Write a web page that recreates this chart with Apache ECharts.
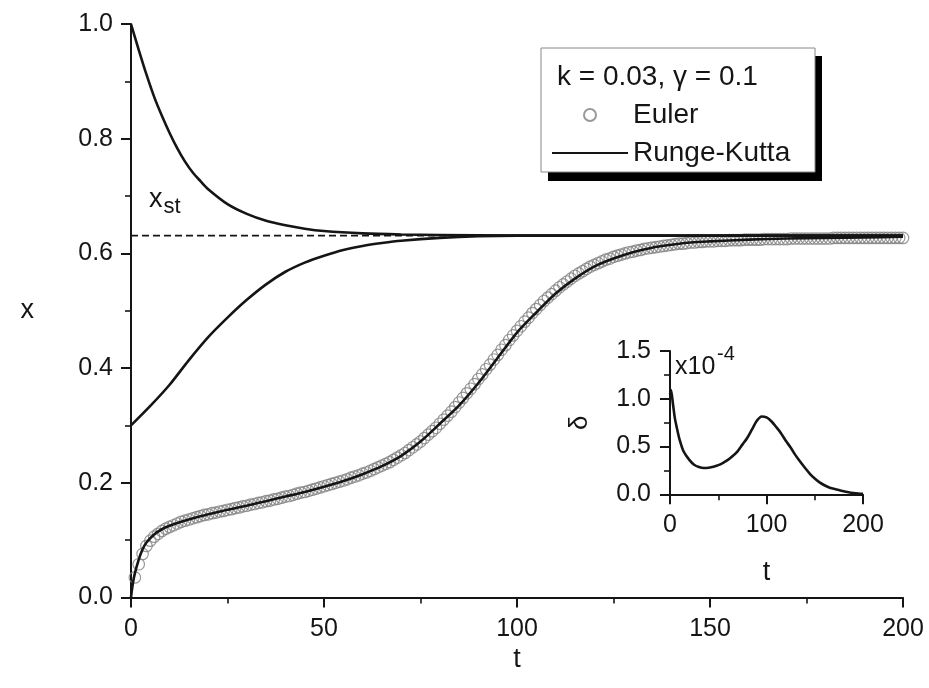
<!DOCTYPE html>
<html>
<head>
<meta charset="utf-8">
<script src="https://cdn.jsdelivr.net/npm/echarts@6/dist/echarts.min.js"></script>
<style>
  html, body { margin: 0; padding: 0; background: #fff; }
  #main { width: 929px; height: 688px; }
</style>
</head>
<body>
<div id="main"></div>
<script>
// Runge-Kutta, start x = 0 (S-shaped curve)
var rkLowT = [0, 0.5, 1, 2, 3, 4, 6, 8, 10, 13, 17, 20, 25, 30, 35, 40, 45, 50, 55, 60, 65, 70, 75, 80, 85, 90, 95, 100,
  105, 110, 115, 120, 125, 130, 135, 140, 145, 150, 160, 170, 180, 190, 200];
var rkLowX = [0, 0.025, 0.042, 0.066, 0.084, 0.096, 0.110, 0.119, 0.125, 0.132, 0.140, 0.145, 0.153, 0.160, 0.168, 0.176,
  0.184, 0.193, 0.203, 0.215, 0.229, 0.247, 0.272, 0.303, 0.335, 0.374, 0.418, 0.462,
  0.497, 0.530, 0.556, 0.577, 0.591, 0.602, 0.610, 0.615, 0.619, 0.621, 0.624, 0.626, 0.627, 0.628, 0.629];

// Runge-Kutta, start x = 1.0
var rkHighT = [0, 2, 4, 6, 8, 10, 12, 14, 16, 18, 20, 25, 30, 35, 40, 45, 50, 60, 70, 80, 100, 150, 200];
var rkHighX = [1.0, 0.955, 0.912, 0.873, 0.840, 0.810, 0.783, 0.760, 0.741, 0.726, 0.712, 0.686, 0.669, 0.657, 0.649,
  0.643, 0.639, 0.635, 0.633, 0.632, 0.631, 0.631, 0.631];

// Runge-Kutta, start x = 0.3
var rkMidT = [0, 5, 10, 15, 20, 25, 30, 35, 40, 45, 50, 55, 60, 65, 70, 80, 90, 100, 150, 200];
var rkMidX = [0.300, 0.334, 0.371, 0.414, 0.454, 0.488, 0.519, 0.546, 0.568, 0.584, 0.596, 0.606, 0.613, 0.618, 0.622,
  0.627, 0.630, 0.631, 0.631, 0.631];

// Euler, start x = 0, one circle per time step t = 1 ... 200
var eulerX = [
  0.035, 0.058, 0.076, 0.090, 0.099, 0.106, 0.111, 0.116, 0.120, 0.123,
  0.126, 0.129, 0.132, 0.134, 0.136, 0.138, 0.140, 0.142, 0.144, 0.145,
  0.147, 0.148, 0.150, 0.151, 0.153, 0.154, 0.156, 0.157, 0.159, 0.160,
  0.162, 0.163, 0.165, 0.166, 0.168, 0.169, 0.171, 0.172, 0.174, 0.176,
  0.177, 0.179, 0.181, 0.183, 0.184, 0.186, 0.188, 0.190, 0.192, 0.194,
  0.196, 0.198, 0.200, 0.202, 0.204, 0.206, 0.209, 0.211, 0.213, 0.216,
  0.218, 0.221, 0.224, 0.227, 0.230, 0.233, 0.236, 0.240, 0.244, 0.248,
  0.252, 0.257, 0.262, 0.267, 0.272, 0.278, 0.284, 0.290, 0.296, 0.303,
  0.310, 0.317, 0.324, 0.332, 0.340, 0.348, 0.356, 0.364, 0.372, 0.381,
  0.389, 0.398, 0.406, 0.415, 0.423, 0.432, 0.440, 0.449, 0.457, 0.465,
  0.473, 0.481, 0.488, 0.496, 0.503, 0.510, 0.517, 0.523, 0.529, 0.535,
  0.541, 0.546, 0.551, 0.556, 0.561, 0.565, 0.569, 0.573, 0.577, 0.580,
  0.583, 0.586, 0.589, 0.591, 0.594, 0.596, 0.598, 0.600, 0.602, 0.603,
  0.605, 0.606, 0.608, 0.609, 0.610, 0.611, 0.612, 0.613, 0.614, 0.615,
  0.616, 0.617, 0.617, 0.618, 0.619, 0.619, 0.620, 0.620, 0.621, 0.621,
  0.621, 0.622, 0.622, 0.622, 0.623, 0.623, 0.623, 0.623, 0.624, 0.624,
  0.624, 0.624, 0.624, 0.625, 0.625, 0.625, 0.625, 0.625, 0.625, 0.625,
  0.626, 0.626, 0.626, 0.626, 0.626, 0.626, 0.626, 0.626, 0.626, 0.626,
  0.626, 0.627, 0.627, 0.627, 0.627, 0.627, 0.627, 0.627, 0.627, 0.627,
  0.627, 0.627, 0.627, 0.627, 0.627, 0.627, 0.627, 0.627, 0.627, 0.627
];

// steady state x_st
var xstValue = 0.631;
var xstEnd = 90;

// inset: difference delta (in units of 1e-4)
var deltaT = [0, 1, 3, 5, 7, 10, 14, 20, 25, 30, 35, 40, 45, 50, 55, 60, 65, 70, 75, 80, 85, 90, 95, 100,
  105, 110, 115, 120, 125, 130, 135, 140, 145, 150, 155, 160, 165, 170, 175, 180, 185, 190, 195, 200];
var deltaV = [1.05, 1.09, 0.95, 0.80, 0.70, 0.57, 0.45, 0.36, 0.31, 0.285, 0.275, 0.278, 0.288, 0.305, 0.330, 0.360,
  0.400, 0.450, 0.520, 0.590, 0.680, 0.770, 0.815, 0.805,
  0.765, 0.705, 0.640, 0.560, 0.490, 0.410, 0.340, 0.275, 0.215, 0.165, 0.125, 0.095, 0.072, 0.058, 0.045,
  0.032, 0.022, 0.014, 0.008, 0.004];

var legendTitle = 'k = 0.03, γ = 0.1';

function pairs(ts, vs) {
  return ts.map(function (t, i) { return [t, vs[i]]; });
}

var FONT = "'Liberation Sans', Arial, sans-serif";
var INK = '#151515';

var axisCommon = {
  axisLine: { onZero: false, lineStyle: { color: INK, width: 2 } },
  axisTick: { show: true, length: 10, lineStyle: { color: INK, width: 2 } },
  minorTick: { show: true, splitNumber: 2, length: 6, lineStyle: { color: INK, width: 1.6 } },
  splitLine: { show: false },
  minorSplitLine: { show: false }
};

var chartDom = document.getElementById('main');
var myChart = echarts.init(chartDom);
var option;

option = {
  backgroundColor: '#fff',
  animation: false,
  textStyle: { fontFamily: FONT, color: INK },
  grid: [
    { left: 131, top: 24, width: 772, height: 573.5 },
    { left: 670, top: 351, width: 193, height: 143.3 }
  ],
  xAxis: [
    Object.assign({}, axisCommon, {
      type: 'value', gridIndex: 0, min: 0, max: 200, interval: 50,
      name: 't', nameLocation: 'middle', nameGap: 49,
      nameTextStyle: { fontSize: 27, color: INK, fontFamily: FONT },
      axisLabel: { fontSize: 25, color: INK, margin: 19, fontFamily: FONT }
    }),
    Object.assign({}, axisCommon, {
      type: 'value', gridIndex: 1, min: 0, max: 200, interval: 100,
      name: 't', nameLocation: 'middle', nameGap: 65,
      nameTextStyle: { fontSize: 27, color: INK, fontFamily: FONT },
      axisLabel: { fontSize: 25, color: INK, margin: 18, fontFamily: FONT }
    })
  ],
  yAxis: [
    Object.assign({}, axisCommon, {
      type: 'value', gridIndex: 0, min: 0, max: 1.0, interval: 0.2,
      name: 'x', nameLocation: 'middle', nameGap: 97, nameRotate: 0,
      nameTextStyle: { fontSize: 27, color: INK, fontFamily: FONT, padding: [15, 0, 0, 0] },
      axisLabel: { fontSize: 25, color: INK, margin: 18, fontFamily: FONT,
        formatter: function (v) { return v.toFixed(1); } }
    }),
    Object.assign({}, axisCommon, {
      type: 'value', gridIndex: 1, min: 0, max: 1.5, interval: 0.5,
      name: 'δ', nameLocation: 'middle', nameGap: 77,
      nameTextStyle: { fontSize: 26, color: INK, fontFamily: FONT },
      axisLabel: { fontSize: 25, color: INK, margin: 19, fontFamily: FONT,
        formatter: function (v) { return v.toFixed(1); } }
    })
  ],
  legend: {
    data: [
      { name: 'Euler' },
      { name: 'Runge-Kutta', itemStyle: { opacity: 0 } }
    ],
    orient: 'vertical',
    left: 546, top: 96,
    itemWidth: 76, itemHeight: 12, itemGap: 10,
    z: 10,
    textStyle: { fontSize: 28, color: INK, fontFamily: FONT, lineHeight: 26 },
    selectedMode: false
  },
  graphic: [
    { type: 'rect', z: 1, shape: { x: 548, y: 56, width: 274, height: 125 }, style: { fill: '#000' } },
    { type: 'rect', z: 2, shape: { x: 541, y: 48, width: 274, height: 124 }, style: { fill: '#fff', stroke: '#888', lineWidth: 1 } },
    { type: 'text', z: 10, x: 557, y: 77,
      style: { text: legendTitle, font: '28px ' + FONT, fill: INK, verticalAlign: 'middle' } },
    { type: 'text', z: 10, left: 149, top: 186,
      style: { text: 'x{sub|st}', font: '27px ' + FONT, fill: INK,
        rich: { sub: { fontSize: 22, fontFamily: FONT, padding: [14, 0, 0, 1] } } } },
    { type: 'text', z: 10, x: 675, y: 367,
      style: { text: 'x10', font: '25px ' + FONT, fill: INK, verticalAlign: 'middle' } },
    { type: 'text', z: 10, x: 717, y: 354,
      style: { text: '-4', font: '20px ' + FONT, fill: INK, verticalAlign: 'middle' } }
  ],
  series: [
    {
      name: 'Euler', type: 'scatter', xAxisIndex: 0, yAxisIndex: 0, z: 2,
      symbol: 'circle', symbolSize: 11.5,
      itemStyle: { color: 'rgba(255,255,255,0)', borderColor: '#7f7f7f', borderWidth: 1.2 },
      data: eulerX.map(function (v, i) { return [i + 1, v]; })
    },
    {
      name: 'xst', type: 'line', xAxisIndex: 0, yAxisIndex: 0, z: 3, symbol: 'none',
      lineStyle: { color: INK, width: 1.8, type: [7, 4] },
      data: [[0, xstValue], [xstEnd, xstValue]]
    },
    {
      name: 'Runge-Kutta', type: 'line', xAxisIndex: 0, yAxisIndex: 0, z: 4, symbol: 'none', smooth: 0.3,
      itemStyle: { color: INK },
      lineStyle: { color: INK, width: 2.6 },
      data: pairs(rkLowT, rkLowX)
    },
    {
      name: 'Runge-Kutta', type: 'line', xAxisIndex: 0, yAxisIndex: 0, z: 4, symbol: 'none', smooth: 0.3,
      itemStyle: { color: INK },
      lineStyle: { color: INK, width: 2.6 },
      data: pairs(rkHighT, rkHighX)
    },
    {
      name: 'Runge-Kutta', type: 'line', xAxisIndex: 0, yAxisIndex: 0, z: 4, symbol: 'none', smooth: 0.3,
      itemStyle: { color: INK },
      lineStyle: { color: INK, width: 2.6 },
      data: pairs(rkMidT, rkMidX)
    },
    {
      name: 'delta', type: 'line', xAxisIndex: 1, yAxisIndex: 1, z: 4, symbol: 'none', smooth: 0.3,
      lineStyle: { color: INK, width: 2.6 },
      data: pairs(deltaT, deltaV)
    }
  ]
};

option && myChart.setOption(option);
</script>
</body>
</html>
